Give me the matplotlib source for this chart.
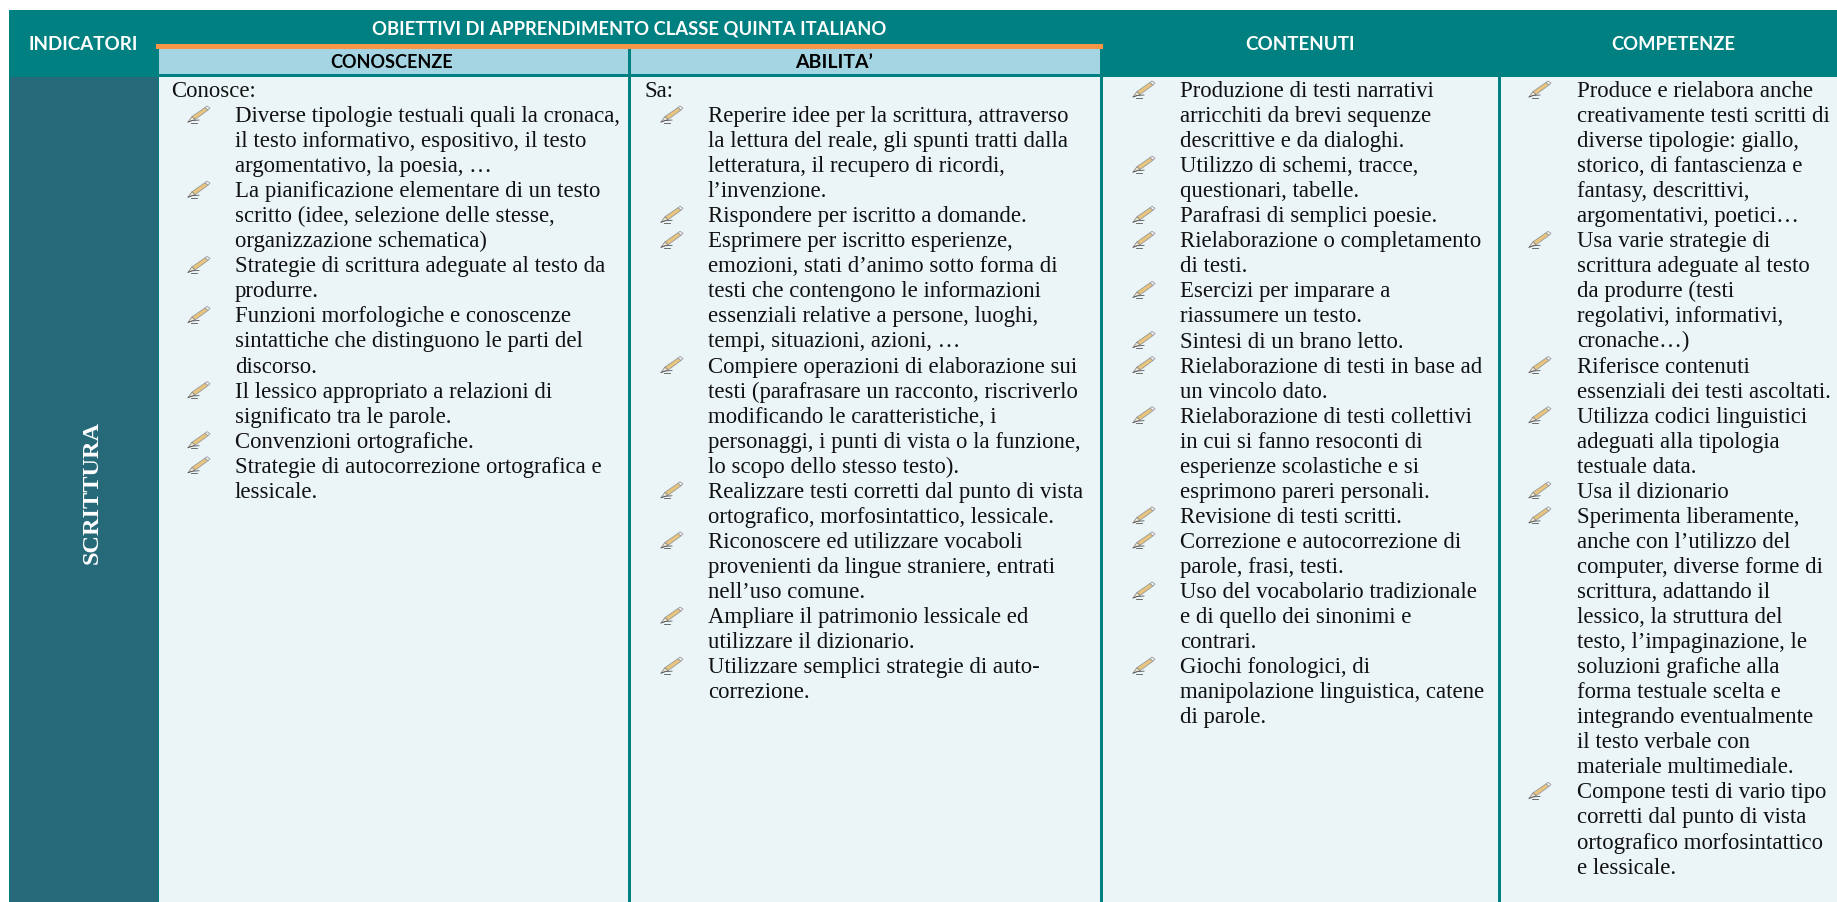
import matplotlib
matplotlib.use("Agg")
import matplotlib.pyplot as plt
from matplotlib.patches import Rectangle, Polygon

# Table text
title = "OBIETTIVI DI APPRENDIMENTO CLASSE QUINTA ITALIANO"
row_label = "SCRITTURA"

conoscenze_intro = ["Conosce:"]
conoscenze = [
    ["Diverse tipologie testuali quali la cronaca,", "il testo informativo, espositivo, il testo", "argomentativo, la poesia, …"],
    ["La pianificazione elementare di un testo", "scritto (idee, selezione delle stesse,", "organizzazione schematica)"],
    ["Strategie di scrittura adeguate al testo da", "produrre."],
    ["Funzioni morfologiche e conoscenze", "sintattiche che distinguono le parti del", "discorso."],
    ["Il lessico appropriato a relazioni di", "significato tra le parole."],
    ["Convenzioni ortografiche."],
    ["Strategie di autocorrezione ortografica e", "lessicale."],
]

abilita_intro = ["Sa:"]
abilita = [
    ["Reperire idee per la scrittura, attraverso", "la lettura del reale, gli spunti tratti dalla", "letteratura, il recupero di ricordi,", "l’invenzione."],
    ["Rispondere per iscritto a domande."],
    ["Esprimere per iscritto esperienze,", "emozioni, stati d’animo sotto forma di", "testi che contengono le informazioni", "essenziali relative a persone, luoghi,", "tempi, situazioni, azioni, …"],
    ["Compiere operazioni di elaborazione sui", "testi (parafrasare un racconto, riscriverlo", "modificando le caratteristiche, i", "personaggi, i punti di vista o la funzione,", "lo scopo dello stesso testo)."],
    ["Realizzare testi corretti dal punto di vista", "ortografico, morfosintattico, lessicale."],
    ["Riconoscere ed utilizzare vocaboli", "provenienti da lingue straniere, entrati", "nell’uso comune."],
    ["Ampliare il patrimonio lessicale ed", "utilizzare il dizionario."],
    ["Utilizzare semplici strategie di auto-", "correzione."],
]

contenuti = [
    ["Produzione di testi narrativi", "arricchiti da brevi sequenze", "descrittive e da dialoghi."],
    ["Utilizzo di schemi, tracce,", "questionari, tabelle."],
    ["Parafrasi di semplici poesie."],
    ["Rielaborazione o completamento", "di testi."],
    ["Esercizi per imparare a", "riassumere un testo."],
    ["Sintesi di un brano letto."],
    ["Rielaborazione di testi in base ad", "un vincolo dato."],
    ["Rielaborazione di testi collettivi", "in cui si fanno resoconti di", "esperienze scolastiche e si", "esprimono pareri personali."],
    ["Revisione di testi scritti."],
    ["Correzione e autocorrezione di", "parole, frasi, testi."],
    ["Uso del vocabolario tradizionale", "e di quello dei sinonimi e", "contrari."],
    ["Giochi fonologici, di", "manipolazione linguistica, catene", "di parole."],
]

competenze = [
    ["Produce e rielabora anche", "creativamente testi scritti di", "diverse tipologie: giallo,", "storico, di fantascienza e", "fantasy, descrittivi,", "argomentativi, poetici…"],
    ["Usa varie strategie di", "scrittura adeguate al testo", "da produrre (testi", "regolativi, informativi,", "cronache…)"],
    ["Riferisce contenuti", "essenziali dei testi ascoltati."],
    ["Utilizza codici linguistici", "adeguati alla tipologia", "testuale data."],
    ["Usa il dizionario"],
    ["Sperimenta liberamente,", "anche con l’utilizzo del", "computer, diverse forme di", "scrittura, adattando il", "lessico, la struttura del", "testo, l’impaginazione, le", "soluzioni grafiche alla", "forma testuale scelta e", "integrando eventualmente", "il testo verbale con", "materiale multimediale."],
    ["Compone testi di vario tipo", "corretti dal punto di vista", "ortografico morfosintattico", "e lessicale."],
]

TEAL = "#008080"
SIDE = "#266A7A"
LIGHT = "#A5D5E2"
BODY = "#EBF5F8"
ORANGE = "#F79646"
SERIF = "Liberation Serif"
SANS = "Lato"
LINE_H = 25.05
FIRST_BASE = 97
FS = 16.4


def box(ax, x0, y0, x1, y1, color, z=1):
    ax.add_patch(Rectangle((x0, y0), x1 - x0, y1 - y0, fc=color, ec="none", zorder=z))


def pencil(ax, x, y):
    # x, y = top left of the little pencil icon
    def pts(p):
        return [(x + a, y + b) for a, b in p]
    ax.add_patch(Polygon(pts([(5, 10.5), (18, 1.5), (21, 4), (8, 13.5)]), fc="#E9C47C", ec="#9A9A9A", lw=0.6, zorder=3))
    ax.add_patch(Polygon(pts([(18, 1.5), (20, 0), (23, 2), (21, 4)]), fc="#F4F4F4", ec="#9A9A9A", lw=0.6, zorder=3))
    ax.add_patch(Polygon(pts([(5, 10.5), (8, 13.5), (1, 16)]), fc="#F5EAD0", ec="#888888", lw=0.6, zorder=3))
    ax.plot([x + 1, x + 5, x + 12], [y + 16, y + 14.5, y + 14], color="#555555", lw=0.6, zorder=3)
    ax.plot([x + 4, x + 10], [y + 16.5, y + 16.5], color="#555555", lw=0.6, zorder=3)


def column(ax, items, intro, x_intro, x_icon, x_text):
    row = 0
    for line in intro:
        ax.text(x_intro, FIRST_BASE + row * LINE_H, line, family=SERIF, fontsize=FS, color="#111111", va="baseline")
        row += 1
    for item in items:
        pencil(ax, x_icon, FIRST_BASE + row * LINE_H - 16)
        for line in item:
            ax.text(x_text, FIRST_BASE + row * LINE_H, line, family=SERIF, fontsize=FS, color="#111111", va="baseline")
            row += 1


fig = plt.figure(figsize=(18.37, 9.02), dpi=100)
ax = fig.add_axes([0, 0, 1, 1])
ax.set_xlim(0, 1837)
ax.set_ylim(902, 0)
ax.axis("off")

# Background blocks
box(ax, 9, 10, 1837, 77, TEAL)
box(ax, 9, 77, 159, 902, TEAL)
box(ax, 10, 77, 158, 902, SIDE, 2)
box(ax, 159, 77, 1837, 902, BODY)
box(ax, 159, 48, 1100, 74, LIGHT)
box(ax, 156, 44, 1103, 48.5, ORANGE, 3)
for xd in [629.5, 1101, 1499]:
    box(ax, xd - 1.5, 77, xd + 1.5, 902, TEAL, 2)
box(ax, 628, 48.5, 631, 74, TEAL, 2)

# Headers
hdr = dict(family=SANS, fontweight="bold", ha="center", va="center")
ax.text(83, 45, "INDICATORI", color="white", fontsize=13.5, **hdr)
ax.text(629, 29, title, color="white", fontsize=13.2, **hdr)
ax.text(392, 62.5, "CONOSCENZE", color="black", fontsize=13, **hdr)
ax.text(834, 62.5, "ABILITA’", color="black", fontsize=14, **hdr)
ax.text(1300, 44.5, "CONTENUTI", color="white", fontsize=13.5, **hdr)
ax.text(1673, 44.5, "COMPETENZE", color="white", fontsize=13.2, **hdr)
ax.text(92, 492, row_label, color="white", family=SERIF, fontweight="bold", fontsize=17.5, rotation=90,
        ha="center", va="center", zorder=4)

# Body columns
column(ax, conoscenze, conoscenze_intro, 171, 187, 235)
column(ax, abilita, abilita_intro, 644, 660, 708)
column(ax, contenuti, [], 0, 1132, 1180)
column(ax, competenze, [], 0, 1528, 1577)

fig.savefig("out.png", dpi=100)
